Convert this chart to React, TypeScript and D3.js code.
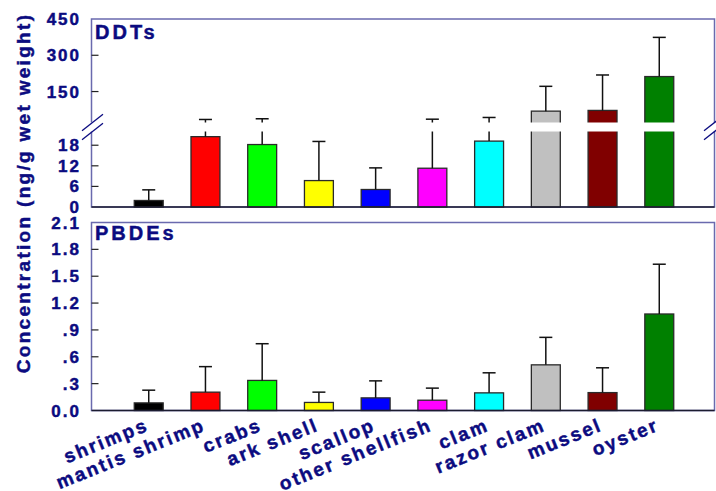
import React from "react"
import * as d3 from "d3"

// shellfish groups on the x axis
const categories = [
  "shrimps", "mantis shrimp", "crabs", "ark shell", "scallop",
  "other shellfish", "clam", "razor clam", "mussel", "oyster"
]
const colours = [
  "#000000", "#ff0000", "#00ff00", "#ffff00", "#0000ff",
  "#ff00ff", "#00ffff", "#c0c0c0", "#800000", "#008000"
]

// DDTs (ng/g wet weight), mean and SD
const ddtMean = [1.9, 20.5, 18.2, 7.7, 5.1, 11.3, 19.2, 69, 72, 212]
const ddtSd = [3.1, 14, 19.2, 11.4, 6.3, 24.4, 23.6, 102.6, 146.5, 162]

// PBDEs (ng/g wet weight), mean and SD
const pbdeMean = [0.085, 0.205, 0.336, 0.09, 0.141, 0.115, 0.197, 0.51, 0.2, 1.078]
const pbdeSd = [0.142, 0.285, 0.41, 0.115, 0.19, 0.135, 0.224, 0.307, 0.277, 0.556]

const ddtLowTicks = [0, 6, 12, 18]
const ddtHighTicks = [150, 300, 450]
const pbdeTicks = [0, 0.3, 0.6, 0.9, 1.2, 1.5, 1.8, 2.1]
const pbdeTickLabels = ["0.0", ".3", ".6", ".9", "1.2", "1.5", "1.8", "2.1"]

const breakAt = 22

const W = 716, H = 491
const left = 91.5, right = 714.5
const top1 = 19, bottom1 = 207
const top2 = 222.5, bottom2 = 410.5
const breakHigh = 122.5, breakLow = 131.5

const navy = "#0b0b80"
const frameCol = "#6a6aae"
const font = "Arial, 'Liberation Sans', Helvetica, sans-serif"

const x = d3.scalePoint<string>().domain(categories).range([92, 716]).padding(1)
const barW = x.step() * 0.51

const yLow = d3.scaleLinear().domain([0, breakAt]).range([bottom1, breakLow])
const yHigh = d3.scaleLinear().domain([breakAt, 450]).range([breakHigh, top1])
const yDdt = (v: number) => (v <= breakAt ? yLow(v) : yHigh(v))
const yPbde = d3.scaleLinear().domain([0, 2.1]).range([bottom2, top2])

function Bars(props: { mean: number[], sd: number[], y: (v: number) => number, base: number }) {
  const { mean, sd, y, base } = props
  return (
    <g>
      {categories.map((c, i) => {
        const cx = x(c) as number
        const yt = y(mean[i])
        const ye = y(mean[i] + sd[i])
        return (
          <g key={c}>
            <rect x={cx - barW / 2} y={yt} width={barW} height={base - yt}
              fill={colours[i]} stroke="#2a2a2a" strokeWidth={1.3} />
            <line x1={cx} x2={cx} y1={yt} y2={ye} stroke="#111" strokeWidth={1.5} />
            <line x1={cx - 6.5} x2={cx + 6.5} y1={ye} y2={ye} stroke="#111" strokeWidth={1.5} />
          </g>
        )
      })}
    </g>
  )
}

// bold navy text, slightly outlined to get the heavy look of the original
const label = {
  fill: navy, stroke: navy, strokeWidth: 0.45, fontFamily: font, fontWeight: 700
} as const
const tickText = { ...label, fontSize: 17, letterSpacing: 2 }

export default function App() {
  const breakMark = (cx: number, cy: number, k: string) => (
    <line key={k} x1={cx - 10.5} y1={cy + 8.3} x2={cx + 10.5} y2={cy - 8.3}
      stroke={navy} strokeWidth={1.3} />
  )
  return (
    <svg width={W} height={H} style={{ position: "absolute", left: 0, top: 0, background: "#fff" }}>
      {/* top panel: DDTs with broken axis */}
      <rect x={left} y={top1} width={right - left} height={bottom1 - top1}
        fill="none" stroke={frameCol} strokeWidth={1.5} />
      <Bars mean={ddtMean} sd={ddtSd} y={yDdt} base={bottom1} />
      <rect x={85} y={breakHigh} width={W} height={breakLow - breakHigh} fill="#fff" />
      {breakMark(left + 1, breakHigh, "a")}
      {breakMark(left + 1, breakLow, "b")}
      {breakMark(right, breakHigh, "c")}
      {breakMark(right, breakLow, "d")}
      <line x1={left} x2={right} y1={bottom1} y2={bottom1} stroke="#1c1c30" strokeWidth={1.5} />
      {ddtLowTicks.map(t => (
        <g key={"l" + t}>
          {t > 0 && <line x1={left} x2={left + 7} y1={yLow(t)} y2={yLow(t)} stroke="#222" strokeWidth={1.2} />}
          <text x={81} y={yLow(t) + 6} textAnchor="end" style={tickText}>{t}</text>
        </g>
      ))}
      {ddtHighTicks.map(t => (
        <g key={"h" + t}>
          {t < 450 && <line x1={left} x2={left + 7} y1={yHigh(t)} y2={yHigh(t)} stroke="#222" strokeWidth={1.2} />}
          <text x={81} y={yHigh(t) + 6} textAnchor="end" style={tickText}>{t}</text>
        </g>
      ))}
      <text x={95} y={39} style={{ ...label, fontSize: 20, letterSpacing: 3 }}>DDTs</text>

      {/* bottom panel: PBDEs */}
      <rect x={left} y={top2} width={right - left} height={bottom2 - top2}
        fill="none" stroke={frameCol} strokeWidth={1.5} />
      <Bars mean={pbdeMean} sd={pbdeSd} y={yPbde} base={bottom2} />
      <line x1={left} x2={right} y1={bottom2} y2={bottom2} stroke="#1c1c30" strokeWidth={1.5} />
      {pbdeTicks.map((t, i) => (
        <g key={"p" + i}>
          {i > 0 && i < pbdeTicks.length - 1 &&
            <line x1={left} x2={left + 7} y1={yPbde(t)} y2={yPbde(t)} stroke="#222" strokeWidth={1.2} />}
          <text x={81} y={yPbde(t) + 6} textAnchor="end" style={tickText}>{pbdeTickLabels[i]}</text>
        </g>
      ))}
      <text x={95} y={240} style={{ ...label, fontSize: 20, letterSpacing: 3 }}>PBDEs</text>

      {/* category labels */}
      {categories.map(c => (
        <text key={c} transform={`translate(${(x(c) as number) + 1},430) rotate(-22)`}
          textAnchor="end" style={{ ...label, fontSize: 19, letterSpacing: 2.2 }}>{c}</text>
      ))}

      {/* y axis title */}
      <text transform="translate(30,193) rotate(-90)" textAnchor="middle"
        style={{ ...label, fontSize: 19, letterSpacing: 2.3 }}>
        Concentration (ng/g wet weight)
      </text>
    </svg>
  )
}
